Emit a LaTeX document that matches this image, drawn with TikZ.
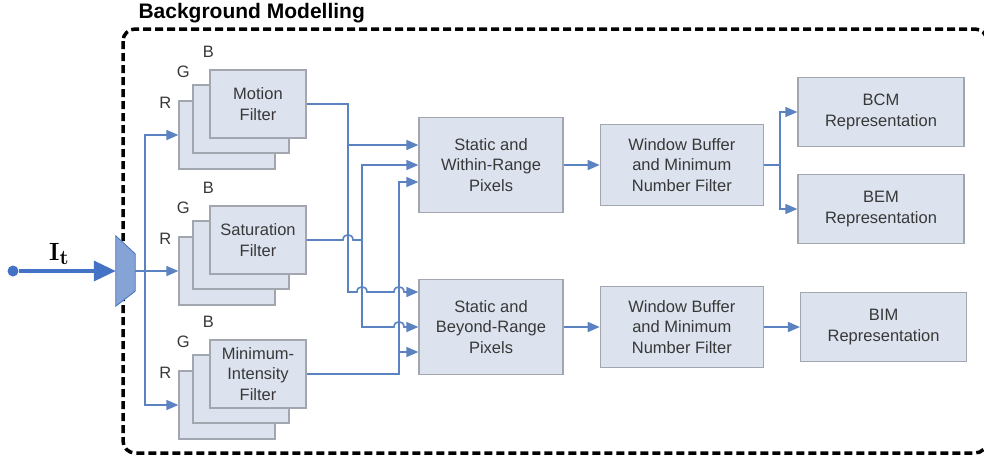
\documentclass[tikz,border=0pt]{standalone}
\usepackage{amsmath}
\usepackage[no-math]{fontspec}
\setmainfont{Liberation Sans}
\usepackage{xcolor}
\usetikzlibrary{positioning,calc,arrows.meta}

\definecolor{boxfill}{HTML}{DCE2EE}
\definecolor{boxline}{HTML}{A2A7AF}
\definecolor{wireblue}{HTML}{5B82C1}
\definecolor{inblue}{HTML}{4472C4}
\definecolor{muxfill}{HTML}{86A3D6}
\definecolor{textgray}{HTML}{383838}

\begin{document}
\begin{tikzpicture}[
    x=1pt, y=-1pt,
    font=\fontsize{16.5}{20.5}\selectfont,
    text=textgray,
    layer/.style={
        draw=boxline,
        line width=1.3pt,
        fill=boxfill,
        minimum width=96pt,
        minimum height=68pt
    },
    filter/.style={
        layer,
        align=center,
        inner sep=2pt
    },
    chan/.style={inner sep=0pt},
    block/.style={
        draw=boxline,
        line width=1.3pt,
        fill=boxfill,
        align=center,
        minimum width=144pt,
        minimum height=95pt
    },
    wbox/.style={block, minimum width=163pt, minimum height=81pt},
    rep/.style={block, minimum width=166pt, minimum height=69pt},
    wire/.style={draw=wireblue, line width=1.6pt},
    arrow/.style={wire, -{Triangle[length=12pt,width=10pt]}},
    frame/.style={draw=black, line width=3.5pt, dash pattern=on 8pt off 4pt, rounded corners=12pt},
    title/.style={font=\fontsize{21}{24}\selectfont\bfseries, text=black, anchor=west},
    mux/.style={draw=inblue, fill=muxfill, line width=0.8pt}
]
\useasboundingbox (0,0) rectangle (984,459);

% dashed frame round the modelling stage
\draw[frame] (123,29) rectangle (987,453);
\node[title] (title) at (135,13) {Background Modelling};

% input and splitter
\node[circle, fill=inblue, inner sep=0pt, minimum size=11pt] (src) at (13,271) {};
\node[inner sep=0pt, minimum width=19pt, minimum height=70pt] (split) at (125.5,271) {};
\draw[mux] (split.north west) -- ($(split.north east)+(0,18)$)
    -- ($(split.south east)+(0,-15)$) -- (split.south west) -- cycle;
\draw[draw=inblue, line width=3.5pt, -{Triangle[length=22pt,width=20pt]}] (src) -- (split.west);
\node[font=\fontsize{28}{32}\selectfont, text=black, anchor=base west, inner sep=0pt] (inlabel) at (49,260) {$\mathbf{I}_\mathbf{t}$};

% motion filter stack
\node[layer] (motionR) at (227,135) {};
\node[layer] (motionG) at (241,119) {};
\node[filter] (motion) at (258,104) {Motion\\Filter};
\node[chan] (motionBlab) at ($(motion.north west)+(-1,-18)$) {B};
\node[chan] (motionGlab) at ($(motion.north west)+(-26,2)$) {G};
\node[chan] (motionRlab) at ($(motion.north west)+(-44,33)$) {R};

% saturation filter stack
\node[layer] (saturR) at (227,271) {};
\node[layer] (saturG) at (241,255) {};
\node[filter] (satur) at (258,240) {Saturation\\Filter};
\node[chan] (saturBlab) at ($(satur.north west)+(-1,-18)$) {B};
\node[chan] (saturGlab) at ($(satur.north west)+(-26,2)$) {G};
\node[chan] (saturRlab) at ($(satur.north west)+(-44,33)$) {R};

% minimum-intensity filter stack
\node[layer] (minintR) at (227,405) {};
\node[layer] (minintG) at (241,389) {};
\node[filter] (minint) at (258,374) {Minimum-\\Intensity\\Filter};
\node[chan] (minintBlab) at ($(minint.north west)+(-1,-18)$) {B};
\node[chan] (minintGlab) at ($(minint.north west)+(-26,2)$) {G};
\node[chan] (minintRlab) at ($(minint.north west)+(-44,33)$) {R};

% pixel classification, buffers and models
\node[block] (within) at (491,165) {Static and\\Within-Range\\Pixels};
\node[block] (beyond) at (491,327) {Static and\\Beyond-Range\\Pixels};
\node[wbox, right=36pt of within] (wbwithin) {Window Buffer\\and Minimum\\Number Filter};
\node[wbox, right=36pt of beyond] (wbbeyond) {Window Buffer\\and Minimum\\Number Filter};
\node[rep] (bcm) at (881,112) {BCM\\Representation};
\node[rep] (bem) at (881,209) {BEM\\Representation};
\node[rep, right=36pt of wbbeyond] (bim) {BIM\\Representation};

% splitter to the three stacks
\draw[wire] (split.east) -- ++(10,0) coordinate (fork);
\draw[arrow] (fork) |- (motionR.west);
\draw[arrow] (fork) |- (minintR.west);
\draw[arrow] (split.east) -- (saturR.west);

% motion output, hopping over the other two buses
\draw[wire] (motion.east) -| (348,145) coordinate (mtap);
\draw[arrow] (mtap) -- ([yshift=20pt]within.west);
\draw[arrow] (mtap) -- (348,292) -- (357,292)
    .. controls (357,285) and (367,285) .. (367,292) -- (394,292)
    .. controls (394,285) and (404,285) .. (404,292)
    -- ([yshift=35pt]beyond.west);

% saturation output
\draw[wire] (satur.east) -- (343,240)
    .. controls (343,233) and (353,233) .. (353,240)
    -- (362,240) coordinate (stap);
\draw[arrow] (stap) |- (within.west);
\draw[arrow] (stap) -- (362,327) -- (394,327)
    .. controls (394,320) and (404,320) .. (404,327)
    -- (beyond.west);

% minimum-intensity output
\draw[wire] (minint.east) -| (399,352) coordinate (itap);
\draw[arrow] (itap) |- ([yshift=-17pt]within.west);
\draw[arrow] (itap) -- ([yshift=-25pt]beyond.west);

% buffers and representations
\draw[arrow] (within) -- (wbwithin);
\draw[arrow] (beyond) -- (wbbeyond);
\draw[wire] (wbwithin.east) -- ++(16,0) coordinate (rfork);
\draw[arrow] (rfork) |- (bcm.west);
\draw[arrow] (rfork) |- (bem.west);
\draw[arrow] (wbbeyond) -- (bim);

\end{tikzpicture}
\end{document}
